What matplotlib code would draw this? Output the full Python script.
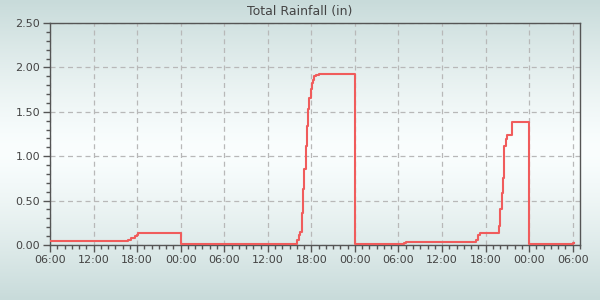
import matplotlib
matplotlib.use("Agg")
import matplotlib.pyplot as plt
import numpy as np
from matplotlib.ticker import MultipleLocator, FixedLocator, FixedFormatter

# hours since 06:00 on the first day, cumulative daily rainfall (in)
hours = [0.0, 10.7, 11.15, 11.7, 11.95, 12.1, 12.3, 18.0,
         34.05, 34.3, 34.5, 34.75, 34.9, 35.05, 35.2, 35.45, 35.6, 35.7,
         35.9, 36.1, 36.2, 36.4, 36.6, 37.1, 42.0,
         48.7, 49.0, 58.7, 59.0, 59.2, 61.85, 62.0, 62.2, 62.4, 62.5,
         62.6, 62.75, 62.9, 63.7, 66.0, 72.1, 72.2]
rain = [0.05, 0.06, 0.08, 0.10, 0.11, 0.13, 0.14, 0.01,
        0.06, 0.11, 0.15, 0.36, 0.63, 0.86, 1.11, 1.34, 1.53, 1.66,
        1.76, 1.82, 1.86, 1.90, 1.92, 1.93, 0.01,
        0.02, 0.03, 0.06, 0.11, 0.14, 0.21, 0.40, 0.59, 0.75, 1.01,
        1.11, 1.19, 1.24, 1.38, 0.01, 0.02, 0.02]

tick_hours = [0, 6, 12, 18, 24, 30, 36, 42, 48, 54, 60, 66, 72]
tick_labels = ['06:00', '12:00', '18:00', '00:00', '06:00', '12:00', '18:00',
               '00:00', '06:00', '12:00', '18:00', '00:00', '06:00']

txt = '#444444'
edge = '#555555'

fig = plt.figure(figsize=(6, 3), dpi=100)

# background gradient: grey-teal at top and bottom, nearly white in the middle
bg = fig.add_axes([0, 0, 1, 1], zorder=-10)
t = np.abs(np.linspace(-1, 1, 300))
top = np.array([200, 219, 218]) / 255.0
mid = np.array([250, 254, 254]) / 255.0
grad = mid[None, :] + (top - mid)[None, :] * t[:, None] ** 1.3
bg.imshow(grad[:, None, :], aspect='auto', extent=[0, 1, 0, 1])
bg.axis('off')

ax = fig.add_axes([50 / 600, 1 - 245 / 300, 530 / 600, 222 / 300])
ax.patch.set_alpha(0)

ax.step(hours, rain, where='post', color='#f05c5c', linewidth=1.5, zorder=3)

ax.set_xlim(0, 73)
ax.set_ylim(0, 2.5)
ax.xaxis.set_major_locator(FixedLocator(tick_hours))
ax.xaxis.set_major_formatter(FixedFormatter(tick_labels))
ax.xaxis.set_minor_locator(MultipleLocator(1))
ax.yaxis.set_major_locator(MultipleLocator(0.5))
ax.yaxis.set_minor_locator(MultipleLocator(0.1))
ax.yaxis.set_major_formatter(matplotlib.ticker.FormatStrFormatter('%.2f'))

ax.grid(which='major', color='#b8b8b8', linestyle=(0, (4, 3)), linewidth=0.9)
ax.tick_params(which='major', length=5, width=1, color=edge, labelsize=8,
               labelcolor=txt, pad=2)
ax.tick_params(which='minor', length=3, width=1, color=edge)
for s in ax.spines.values():
    s.set_color(edge)
    s.set_linewidth(1)

fig.text(0.5, 0.96, 'Total Rainfall (in)', ha='center', va='center',
         fontsize=9, color=txt)

plt.savefig('out.png', dpi=100)
